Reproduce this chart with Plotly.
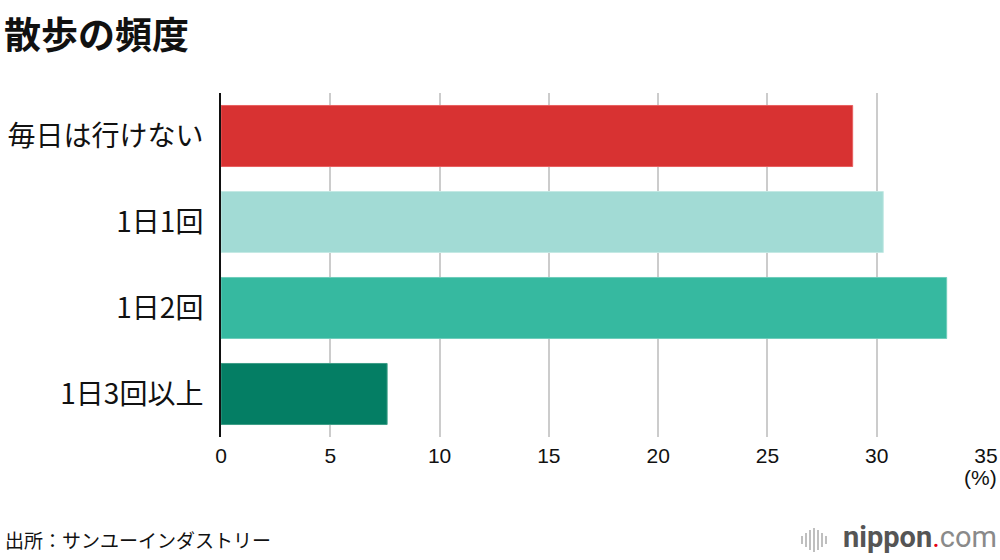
import plotly.graph_objects as go

categories = ["毎日は行けない", "1日1回", "1日2回", "1日3回以上"]
values = [28.9, 30.3, 33.2, 7.6]
colors = ["#D83232", "#A2DBD5", "#36B9A0", "#047E64"]
edge_colors = ["#E86060", "#C4E9E4", "#6FCDBB", "#3D9E87"]
x_ticks = [0, 5, 10, 15, 20, 25, 30, 35]

title_text = "散歩の頻度"
source_text = "出所：サンユーインダストリー"

W, H = 1000, 560
L, R, T, B = 221, 14, 93, 123
PW, PH = W - L - R, H - T - B


def px(x):
    return (x - L) / PW


def py(y):
    return (H - B - y) / PH


fig = go.Figure(
    go.Bar(
        y=categories,
        x=values,
        orientation="h",
        marker=dict(color=colors, line=dict(color=edge_colors, width=1)),
        hoverinfo="skip",
    )
)

fig.update_layout(
    width=W,
    height=H,
    margin=dict(l=L, r=R, t=T, b=B, autoexpand=False),
    paper_bgcolor="white",
    plot_bgcolor="white",
    bargap=0.29,
    showlegend=False,
)

fig.update_xaxes(
    range=[0, 35],
    tickvals=x_ticks,
    ticktext=[str(v) for v in x_ticks],
    showgrid=True,
    gridcolor="#CCCCCC",
    gridwidth=2,
    zeroline=False,
    showline=False,
    automargin=False,
    ticks="outside",
    ticklen=0,
    tickcolor="rgba(0,0,0,0)",
    tickfont=dict(family="Liberation Sans Narrow, Liberation Sans", size=21, color="#111111"),
)

fig.update_yaxes(
    categoryorder="array",
    categoryarray=categories,
    autorange="reversed",
    showline=True,
    linecolor="#111111",
    linewidth=2,
    showgrid=False,
    automargin=False,
    ticks="outside",
    ticklen=10,
    tickcolor="rgba(0,0,0,0)",
    tickfont=dict(family="Noto Sans CJK JP", size=28, color="#111111"),
)

annotations = [
    dict(
        text=f"<b>{title_text}</b>",
        xref="paper", yref="paper",
        x=px(2), y=py(4),
        xanchor="left", yanchor="top",
        showarrow=False,
        font=dict(family="Noto Sans CJK JP", size=37, color="#111111"),
    ),
    dict(
        text="(%)",
        xref="paper", yref="paper",
        x=px(999), y=py(477),
        xanchor="right", yanchor="middle",
        showarrow=False,
        font=dict(family="Liberation Sans Narrow, Liberation Sans", size=21, color="#111111"),
    ),
    dict(
        text=source_text,
        xref="paper", yref="paper",
        x=px(3), y=py(539),
        xanchor="left", yanchor="middle",
        showarrow=False,
        font=dict(family="Noto Sans CJK JP", size=19, color="#111111"),
    ),
    dict(
        text="<b>nippon</b><span style='color:#E60012'>.</span><span style='color:#8a8a8a'>com</span>",
        xref="paper", yref="paper",
        x=px(999), y=py(537),
        xanchor="right", yanchor="middle",
        showarrow=False,
        font=dict(family="Roboto", size=29, color="#555555"),
    ),
]
fig.update_layout(annotations=annotations)

# decorative logo bars
logo_bars = [(802, 8), (806, 14), (810, 20), (814, 24), (818, 20), (822, 14), (826, 8)]
shapes = []
for xpix, h in logo_bars:
    shapes.append(dict(
        type="line", xref="paper", yref="paper",
        x0=px(xpix), x1=px(xpix),
        y0=py(540 - h / 2), y1=py(540 + h / 2),
        line=dict(color="#AAAAAA", width=1.5),
    ))
fig.update_layout(shapes=shapes)

fig.write_html(
    "out.html",
    config={"displayModeBar": False},
    post_script="document.body.style.margin='0';document.body.style.overflow='hidden';",
)
